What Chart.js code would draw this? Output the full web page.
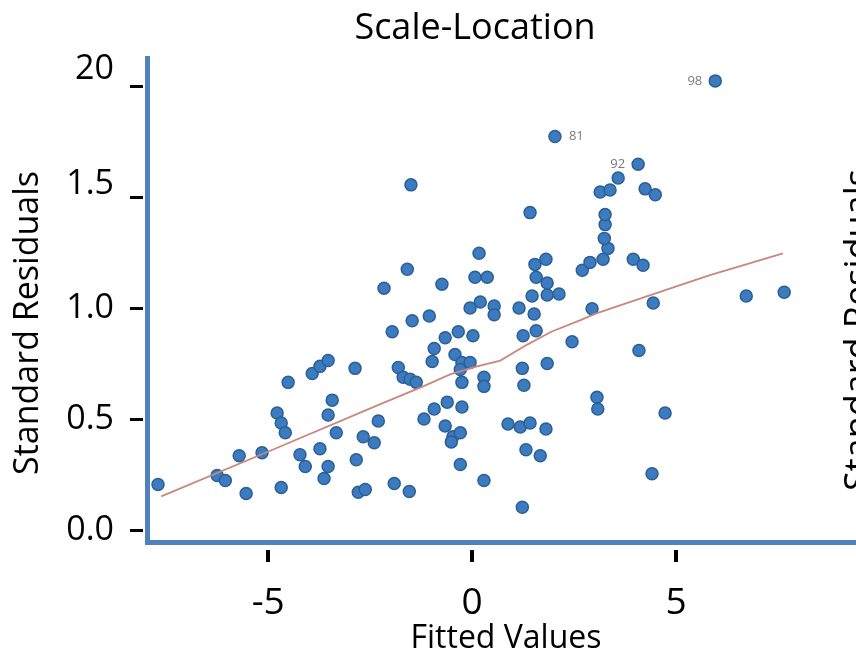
<!DOCTYPE html>
<html>
<head>
<meta charset="utf-8">
<title>Scale-Location</title>
<script src="https://cdn.jsdelivr.net/npm/chart.js@4/dist/chart.umd.min.js"></script>
<style>
  html, body { margin: 0; padding: 0; background: #ffffff; overflow: hidden; }
  #wrap { width: 856px; height: 659px; position: relative; }
</style>
</head>
<body>
<div id="wrap"><canvas id="chart" width="856" height="659"></canvas></div>
<script>
// Fitted values and sqrt(|standardised residuals|) per observation
const fitted = [
  -7.70, -6.25, -6.05, -5.71, -5.15, -5.54, -4.68, -4.51, -4.78, -4.68,
  -4.58, -3.92, -3.73, -3.53, -2.87, -3.43, -3.53, -3.33, -4.22, -4.09,
  -3.73, -3.53, -3.63, -2.84, -2.79, -2.62, -2.30, -2.67, -2.40, -2.16,
  -1.59, -1.50, -1.96, -1.47, -1.05, -0.74, -1.81, -1.69, -1.52, -1.37,
  -1.18, -0.93, -0.61, -0.25, -0.66, -0.47, -0.29, -0.51, -0.29, -1.91,
  -1.54, 0.29, 0.17, 0.07, 0.37, -0.05, 0.20, 0.54, 0.54, -0.66,
  -0.34, 0.02, -0.93, -0.98, -0.42, -0.25, -0.05, -0.29, -0.25, 0.29,
  0.29, 1.15, 1.47, 1.84, 2.13, 1.52, 2.94, 1.25, 1.57, 2.45,
  1.23, 1.27, 1.84, 3.06, 3.08, 0.88, 1.18, 1.42, 1.81, 1.32,
  1.67, 1.23, 1.42, 1.54, 1.81, 1.57, 1.84, 2.70, 2.89, 3.21,
  3.33, 3.24, 3.26, 3.26, 3.14, 3.38, 3.58, 4.24, 4.49, 3.95,
  4.19, 4.44, 6.72, 7.65, 4.09, 4.73, 4.41
];
const stdResid = [
  0.205, 0.246, 0.223, 0.335, 0.348, 0.165, 0.192, 0.665, 0.527, 0.482,
  0.438, 0.705, 0.737, 0.763, 0.728, 0.585, 0.518, 0.438, 0.339, 0.286,
  0.366, 0.286, 0.232, 0.317, 0.170, 0.183, 0.491, 0.420, 0.393, 1.089,
  1.174, 1.554, 0.893, 0.942, 0.964, 1.107, 0.732, 0.688, 0.679, 0.665,
  0.500, 0.545, 0.576, 0.554, 0.469, 0.420, 0.438, 0.397, 0.295, 0.210,
  0.174, 0.223, 1.246, 1.138, 1.138, 1.000, 1.027, 1.009, 0.969, 0.866,
  0.893, 0.875, 0.817, 0.759, 0.790, 0.754, 0.754, 0.723, 0.665, 0.688,
  0.647, 1.000, 1.054, 1.058, 1.063, 0.973, 0.996, 0.875, 0.897, 0.848,
  0.728, 0.652, 0.750, 0.598, 0.545, 0.478, 0.464, 0.482, 0.455, 0.362,
  0.335, 0.103, 1.429, 1.196, 1.219, 1.138, 1.112, 1.170, 1.205, 1.219,
  1.268, 1.313, 1.375, 1.420, 1.522, 1.531, 1.585, 1.536, 1.509, 1.219,
  1.192, 1.022, 1.054, 1.071, 0.808, 0.527, 0.254
];

// Observations flagged with their row number
const outlierIds = ['98', '81', '92'];
const outlierFitted = [5.96, 2.03, 4.07];
const outlierResid = [2.022, 1.772, 1.647];

// Smoothed trend through the cloud
const smoothX = [-7.62, -4.95, -2.25, -1.20, -0.54, 0.12, 0.69, 1.35, 1.94, 2.67, 3.01, 4.17, 5.81, 7.62];
const smoothY = [0.152, 0.357, 0.567, 0.647, 0.701, 0.737, 0.763, 0.835, 0.893, 0.946, 0.973, 1.045, 1.147, 1.246];

// Axis ticks
const xTickValues = [-5, 0, 5];
const xTickLabels = ['-5', '0', '5'];
const yTickValues = [0, 0.5, 1, 1.5, 2];
const yTickLabels = ['0.0', '0.5', '1.0', '1.5', '20'];

const FONT = '"Open Sans", "Noto Sans", sans-serif';
const AXIS_BLUE = '#4f81bd';

const points = fitted.map((x, i) => ({ x: x, y: stdResid[i] }));
const flagged = outlierFitted.map((x, i) => ({ x: x, y: outlierResid[i] }));
const smooth = smoothX.map((x, i) => ({ x: x, y: smoothY[i] }));

// The two upper y labels sit above their tick marks; a blank second line
// with a shorter line height lifts them.
const yLabelLift = [0, 0, 0, 26, 33];

// Short black tick marks, the outlier tags and the surrounding titles
const decorations = {
  id: 'decorations',
  afterDraw(chart) {
    const ctx = chart.ctx;
    const xs = chart.scales.x;
    const ys = chart.scales.y;
    ctx.save();

    ctx.strokeStyle = '#000';
    ctx.lineWidth = 3;
    yTickValues.forEach(v => {
      const py = Math.round(ys.getPixelForValue(v)) + 0.5;
      ctx.beginPath();
      ctx.moveTo(ys.right - 17, py);
      ctx.lineTo(ys.right - 4, py);
      ctx.stroke();
    });
    ctx.lineWidth = 4;
    xTickValues.forEach(v => {
      const px = Math.round(xs.getPixelForValue(v));
      ctx.beginPath();
      ctx.moveTo(px, xs.top + 8);
      ctx.lineTo(px, xs.top + 20);
      ctx.stroke();
    });

    // row numbers beside the flagged observations
    const meta = chart.getDatasetMeta(1);
    const tagSide = ['left', 'right', 'left'];
    ctx.fillStyle = '#7a7a7a';
    ctx.font = '13px ' + FONT;
    ctx.textBaseline = 'middle';
    meta.data.forEach((el, i) => {
      if (tagSide[i] === 'left') {
        ctx.textAlign = 'right';
        ctx.fillText(outlierIds[i], el.x - 13, el.y);
      } else {
        ctx.textAlign = 'left';
        ctx.fillText(outlierIds[i], el.x + 14, el.y);
      }
    });

    // chart title and axis titles
    ctx.fillStyle = '#000';
    ctx.textAlign = 'center';
    ctx.textBaseline = 'middle';
    ctx.font = '36px ' + FONT;
    ctx.fillText('Scale-Location', 475, 29);

    ctx.font = '32px ' + FONT;
    ctx.fillText('Fitted Values', 506, 639);

    ctx.save();
    ctx.translate(28, 323);
    ctx.rotate(-Math.PI / 2);
    ctx.font = '34px ' + FONT;
    ctx.fillText('Standard Residuals', 0, 0);
    ctx.restore();

    // companion axis title running off the right edge
    ctx.save();
    ctx.translate(842, 330);
    ctx.rotate(-Math.PI / 2);
    ctx.textBaseline = 'top';
    ctx.font = '36px ' + FONT;
    ctx.fillText('Standard Residuals', 0, 0);
    ctx.restore();

    ctx.restore();
  }
};

new Chart(document.getElementById('chart'), {
  type: 'scatter',
  data: {
    datasets: [
      {
        label: 'Residuals',
        data: points,
        pointRadius: 6,
        pointBackgroundColor: '#3c7bbf',
        pointBorderColor: '#2c5f95',
        pointBorderWidth: 1.5,
        order: 2
      },
      {
        label: 'Flagged',
        data: flagged,
        pointRadius: 6,
        pointBackgroundColor: '#3c7bbf',
        pointBorderColor: '#2c5f95',
        pointBorderWidth: 1.5,
        order: 2
      },
      {
        type: 'line',
        label: 'Trend',
        data: smooth,
        borderColor: '#c9877d',
        borderWidth: 1.8,
        pointRadius: 0,
        fill: false,
        tension: 0,
        order: 1
      }
    ]
  },
  options: {
    responsive: false,
    animation: false,
    devicePixelRatio: 1,
    layout: { autoPadding: false, padding: { top: 54, right: 0, bottom: 0, left: 0 } },
    plugins: {
      legend: { display: false },
      title: { display: false },
      tooltip: { enabled: false }
    },
    scales: {
      x: {
        type: 'linear',
        min: -7.97,
        max: 9.41,
        afterBuildTicks: s => { s.ticks = xTickValues.map(v => ({ value: v })); },
        afterFit: s => { s.height = 117; },
        grid: { display: false },
        border: { display: true, color: AXIS_BLUE, width: 5 },
        ticks: {
          color: '#000',
          font: { family: FONT, size: 37 },
          padding: 31,
          maxRotation: 0,
          callback: v => xTickLabels[xTickValues.indexOf(v)]
        }
      },
      y: {
        type: 'linear',
        min: -0.0536,
        max: 2.125,
        afterBuildTicks: s => { s.ticks = yTickValues.map(v => ({ value: v })); },
        afterFit: s => { s.width = 147; },
        grid: { display: false },
        border: { display: true, color: AXIS_BLUE, width: 5 },
        ticks: {
          color: '#000',
          padding: 25,
          font: ctx => {
            const lift = yLabelLift[ctx.index] || 0;
            return lift
              ? { family: FONT, size: 34, lineHeight: lift + 'px' }
              : { family: FONT, size: 34 };
          },
          callback: v => {
            const i = yTickValues.indexOf(v);
            return yLabelLift[i] ? [yTickLabels[i], ''] : yTickLabels[i];
          }
        }
      }
    }
  },
  plugins: [decorations]
});
</script>
</body>
</html>
